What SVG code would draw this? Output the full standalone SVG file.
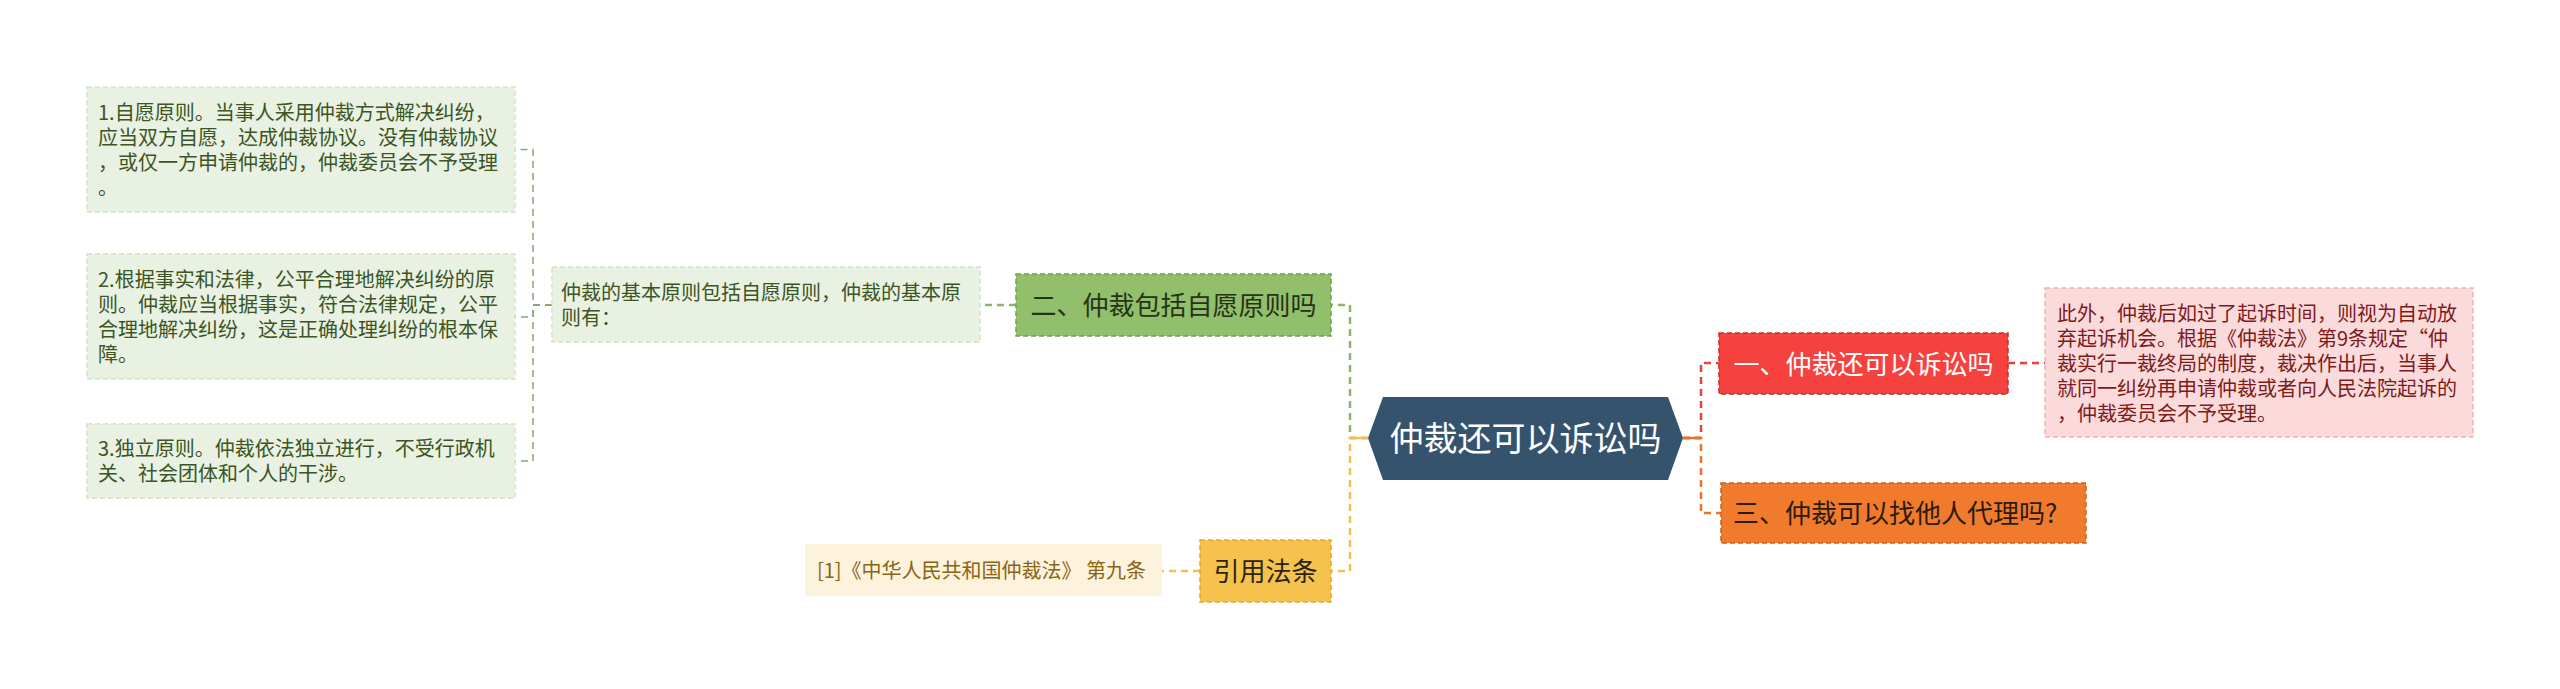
<svg xmlns="http://www.w3.org/2000/svg" width="2560" height="689" viewBox="0 0 2560 689">
<style>
text{font-family:"Noto Sans CJK SC","Noto Sans",sans-serif}
.t20{font-size:20px}
.t26{font-size:26px}
.gbox{fill:#e9f1e2;stroke:#d3e1c5;stroke-width:1.5;stroke-dasharray:5,3}
.gtxt{fill:#3b5524}
.c{fill:none;stroke-dasharray:7,5}
.cg{stroke:#8cb566;stroke-width:2.5}
.cg2{stroke:#8aa86b;stroke-width:1.5}
.cy{stroke:#f2c04c;stroke-width:2.5}
.cr{stroke:#e8403c;stroke-width:2.5}
.co{stroke:#e8742a;stroke-width:2.5}
</style>
<rect width="2560" height="689" fill="#ffffff"/>
<g id="connectors">
<path class="c cg" d="M1368,438 H1350 V305 H1331"/>
<path class="c cy" d="M1368,438 H1350 V571 H1331"/>
<line x1="1350" y1="438" x2="1368" y2="438" stroke="#f2c04c" stroke-width="2.5"/>
<path class="c cr" d="M1683,438 H1701 V363 H1719"/>
<path class="c co" d="M1683,438 H1701 V513 H1721"/>
<line x1="1683" y1="438" x2="1701" y2="438" stroke="#e8742a" stroke-width="2.5"/>
<path class="c cg" d="M1016,305 H980"/>
<path class="c cg2" d="M552,305 H533 V149.5 H515"/>
<path class="c cg2" d="M552,305 H533 V317 H515"/>
<path class="c cg2" d="M552,305 H533 V461 H515"/>
<path class="c cy" d="M1200,571 H1161"/>
<path class="c cr" d="M2008,363 H2045"/>
</g>
<g id="center">
<polygon points="1368,438 1383,397 1668,397 1683,438 1668,480 1383,480" fill="#36536e"/>
<text x="1525.5" y="451" font-size="34" fill="#ffffff" text-anchor="middle">仲裁还可以诉讼吗</text>
</g>
<g id="n-principle">
<rect x="1016" y="274" width="315" height="62" fill="#91bf6b" stroke="#72a04c" stroke-width="1.5" stroke-dasharray="5,3"/>
<text class="t26" x="1173.5" y="315" fill="#263318" text-anchor="middle">二、仲裁包括自愿原则吗</text>
</g>
<g id="n-principle-desc">
<rect class="gbox" x="552" y="267" width="428" height="75"/>
<text class="t20 gtxt" x="561" y="299.5">仲裁的基本原则包括自愿原则，仲裁的基本原</text>
<text class="t20 gtxt" x="561" y="324.5">则有：</text>
</g>
<g id="n-p1">
<rect class="gbox" x="87" y="87" width="428" height="125"/>
<text class="t20 gtxt" x="98" y="119.5">1.自愿原则。当事人采用仲裁方式解决纠纷，</text>
<text class="t20 gtxt" x="98" y="144.5">应当双方自愿，达成仲裁协议。没有仲裁协议</text>
<text class="t20 gtxt" x="98" y="169.5">，或仅一方申请仲裁的，仲裁委员会不予受理</text>
<text class="t20 gtxt" x="98" y="194.5">。</text>
</g>
<g id="n-p2">
<rect class="gbox" x="87" y="254" width="428" height="125"/>
<text class="t20 gtxt" x="98" y="287">2.根据事实和法律，公平合理地解决纠纷的原</text>
<text class="t20 gtxt" x="98" y="312">则。仲裁应当根据事实，符合法律规定，公平</text>
<text class="t20 gtxt" x="98" y="337">合理地解决纠纷，这是正确处理纠纷的根本保</text>
<text class="t20 gtxt" x="98" y="362">障。</text>
</g>
<g id="n-p3">
<rect class="gbox" x="87" y="424" width="428" height="74"/>
<text class="t20 gtxt" x="98" y="456">3.独立原则。仲裁依法独立进行，不受行政机</text>
<text class="t20 gtxt" x="98" y="481">关、社会团体和个人的干涉。</text>
</g>
<g id="n-law">
<rect x="1200" y="540" width="131" height="62" fill="#f6c24e" stroke="#e0a830" stroke-width="1.5" stroke-dasharray="5,3"/>
<text class="t26" x="1265.5" y="581" fill="#2b2410" text-anchor="middle">引用法条</text>
</g>
<g id="n-law-ref">
<rect x="805" y="544" width="357" height="52" fill="#fdf3dc"/>
<text class="t20" x="817" y="577.5" fill="#8a6416">[1]《中华人民共和国仲裁法》 第九条</text>
</g>
<g id="n-lawsuit">
<rect x="1719" y="333" width="289" height="61" fill="#f5423f" stroke="#c92b2b" stroke-width="1.5" stroke-dasharray="5,3"/>
<text class="t26" x="1863.5" y="373.5" fill="#ffffff" text-anchor="middle">一、仲裁还可以诉讼吗</text>
</g>
<g id="n-lawsuit-desc">
<rect x="2045" y="288" width="428" height="149" fill="#fbdadc" stroke="#efb1b6" stroke-width="1.5" stroke-dasharray="5,3"/>
<text class="t20" x="2057" y="320.5" fill="#7d1a1a">此外，仲裁后如过了起诉时间，则视为自动放</text>
<text class="t20" x="2057" y="345.5" fill="#7d1a1a">弃起诉机会。根据《仲裁法》第9条规定“仲</text>
<text class="t20" x="2057" y="370.5" fill="#7d1a1a">裁实行一裁终局的制度，裁决作出后，当事人</text>
<text class="t20" x="2057" y="395.5" fill="#7d1a1a">就同一纠纷再申请仲裁或者向人民法院起诉的</text>
<text class="t20" x="2057" y="420.5" fill="#7d1a1a">，仲裁委员会不予受理。</text>
</g>
<g id="n-agent">
<rect x="1721" y="483" width="365" height="60" fill="#f07b2d" stroke="#d0601a" stroke-width="1.5" stroke-dasharray="5,3"/>
<text class="t26" x="1733" y="523" fill="#2b1a0e">三、仲裁可以找他人代理吗?</text>
</g>
</svg>
